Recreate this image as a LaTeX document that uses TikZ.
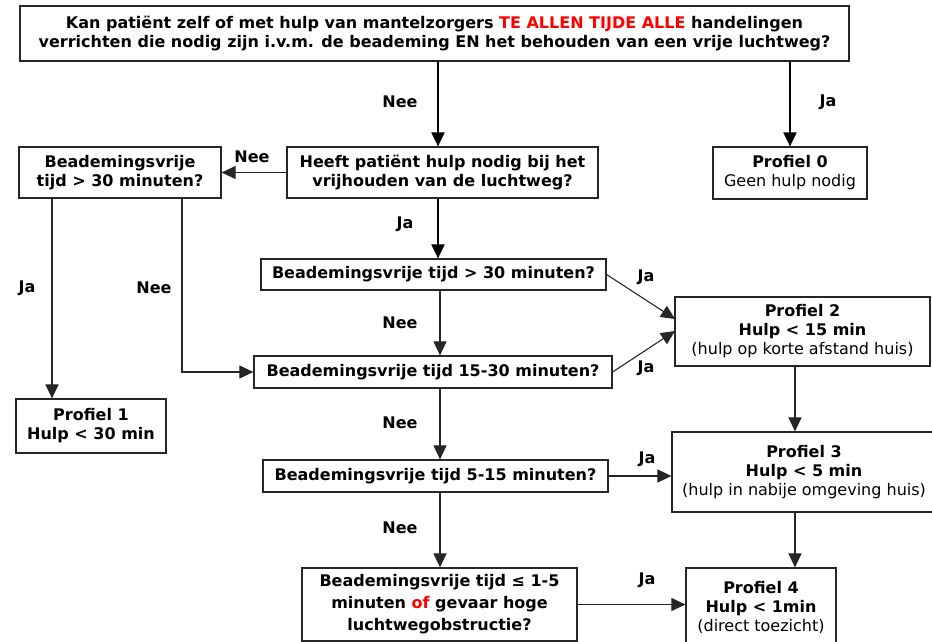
\documentclass[tikz,border=0pt]{standalone}
\usepackage{fontspec}
\setmainfont{DejaVu Sans}
\usetikzlibrary{arrows.meta}
\definecolor{tred}{RGB}{255,0,0}
\begin{document}
\begin{tikzpicture}[x=1pt,y=-1pt,
 box/.style={draw=black!85, line width=1.2pt, rectangle, inner sep=0pt, align=center, font=\fontsize{16}{19}\selectfont\bfseries},
 lbl/.style={font=\fontsize{16}{19}\selectfont\bfseries, inner sep=0pt},
 arr/.style={draw=black!85, line width=1.1pt, -{Triangle[width=13pt,length=14pt]}},
 tarr/.style={draw=black, line width=2pt, -{Triangle[width=13pt,length=14pt]}},
]
\useasboundingbox (0,0) rectangle (932,642);

% boxes
\node[box, minimum width=829pt, minimum height=55pt] (top) at (434.5,33.5)
 {Kan patiënt zelf of met hulp van mantelzorgers {\color{tred}TE ALLEN TIJDE ALLE} handelingen\\verrichten die nodig zijn i.v.m. de beademing EN het behouden van een vrije luchtweg?};
\node[box, minimum width=154pt, minimum height=52pt] (p0) at (790,173)
 {Profiel 0\\{\mdseries Geen hulp nodig}};
\node[box, minimum width=311pt, minimum height=51pt] (heeft) at (442.5,172.5)
 {Heeft patiënt hulp nodig bij het\\vrijhouden van de luchtweg?};
\node[box, minimum width=202pt, minimum height=51pt] (l30) at (120,172.5)
 {Beademingsvrije\\tijd > 30 minuten?};
\node[box, minimum width=150pt, minimum height=54pt] (p1) at (91,426)
 {Profiel 1\\Hulp < 30 min};
\node[box, minimum width=345pt, minimum height=31pt] (b30) at (433.5,274.5)
 {Beademingsvrije tijd > 30 minuten?};
\node[box, minimum width=358pt, minimum height=32pt] (b1530) at (433,372)
 {Beademingsvrije tijd 15-30 minuten?};
\node[box, minimum width=255pt, minimum height=69pt] (p2) at (802.5,331.5)
 {Profiel 2\\Hulp < 15 min\\{\mdseries (hulp op korte afstand huis)}};
\node[box, minimum width=264pt, minimum height=80pt] (p3) at (804,472)
 {Profiel 3\\Hulp < 5 min\\{\mdseries (hulp in nabije omgeving huis)}};
\node[box, minimum width=345pt, minimum height=32pt] (b515) at (435.5,476)
 {Beademingsvrije tijd 5-15 minuten?};
\node[box, minimum width=275pt, minimum height=73pt, font=\fontsize{16}{22}\selectfont\bfseries] (bot) at (439.5,604.5)
 {Beademingsvrije tijd ≤ 1-5\\minuten {\color{tred}of} gevaar hoge\\luchtwegobstructie?};
\node[box, minimum width=150pt, minimum height=78pt] (p4) at (761,607)
 {Profiel 4\\Hulp < 1min\\{\mdseries (direct toezicht)}};

% helper coordinates
\coordinate (xa) at (438,0);
\coordinate (xb) at (790,0);
\coordinate (xc) at (52,0);
\coordinate (xd) at (182,0);
\coordinate (xe) at (440,0);
\coordinate (xf) at (795,0);
\coordinate (p2in1) at (675,319);
\coordinate (p2in2) at (675,331);

% connectors
\draw[tarr] (top.south -| xa) -- (heeft.north -| xa);
\draw[tarr] (top.south -| xb) -- (p0.north -| xb);
\draw[arr] (heeft.west) -- (l30.east);
\draw[arr] (l30.south -| xc) -- (p1.north -| xc);
\draw[arr] (l30.south -| xd) |- (b1530.west);
\draw[tarr] (heeft.south -| xa) -- (b30.north -| xa);
\draw[arr] (b30.south -| xe) -- (b1530.north -| xe);
\draw[arr] (b30.east) -- (p2in1);
\draw[arr] (b1530.east) -- (p2in2);
\draw[arr] (b1530.south -| xe) -- (b515.north -| xe);
\draw[arr] (b515.east) -- (b515.east -| p3.west);
\draw[arr] (p2.south -| xf) -- (p3.north -| xf);
\draw[arr] (b515.south -| xe) -- (bot.north -| xe);
\draw[arr] (bot.east) -- (bot.east -| p4.west);
\draw[arr] (p3.south -| xf) -- (p4.north -| xf);

% labels
\node[lbl] (n1) at (400,102) {Nee};
\node[lbl] (j1) at (828,102) {Ja};
\node[lbl] (n2) at (252,157) {Nee};
\node[lbl] (j2) at (405,224) {Ja};
\node[lbl] (j3) at (27,288) {Ja};
\node[lbl] (n3) at (154,288) {Nee};
\node[lbl] (j4) at (646,277) {Ja};
\node[lbl] (n4) at (400,323) {Nee};
\node[lbl] (j5) at (646,368) {Ja};
\node[lbl] (n5) at (400,423) {Nee};
\node[lbl] (j6) at (647,459) {Ja};
\node[lbl] (n6) at (400,528) {Nee};
\node[lbl] (j7) at (647,580) {Ja};
\end{tikzpicture}
\end{document}
